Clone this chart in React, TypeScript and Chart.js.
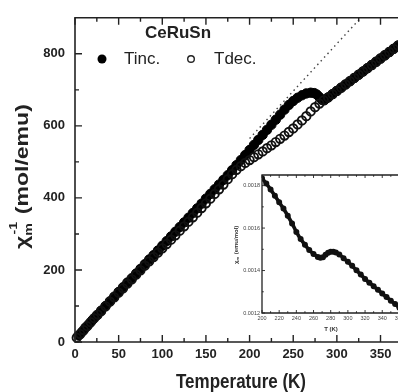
import React, { useEffect, useRef } from 'react';
import { Chart, registerables } from 'chart.js';
Chart.register(...registerables);

const FONT = '"Liberation Sans", Arial, Helvetica, sans-serif';

// ---- main chart data (T in K, chi^-1 in mol/emu) ----
const tincT = [4, 8, 12, 16, 20, 25, 30, 35, 40, 45, 50, 55, 60, 65, 70, 75, 80, 85, 90, 95, 100, 105, 110, 115, 120, 125, 130, 135, 140, 145, 150, 155, 160, 165, 170, 175, 180, 185, 190, 195, 200, 205, 210, 215, 220, 225, 230, 235, 240, 245, 250, 255, 260, 265, 270, 274, 277, 280, 283, 286, 290, 295, 300, 305, 310, 315, 320, 325, 330, 335, 340, 345, 350, 355, 360, 365, 370];
const tincV = [18, 28, 40, 50, 61, 74, 87, 100, 113, 126, 139, 152, 165, 177, 190, 203, 216, 229, 241, 254, 267, 280, 293, 306, 319, 332, 345, 358, 371, 384, 398, 411, 424, 437, 450, 463, 477, 491, 505, 519, 533, 547, 561, 575, 589, 603, 617, 631, 645, 658, 669, 678, 685, 690, 692, 691, 687, 680, 672, 672, 679, 688, 697, 706, 715, 724, 733, 742, 751, 760, 769, 778, 787, 796, 805, 814, 823];

const tdecT = [2, 6, 10, 14, 18, 22, 26, 30, 35, 40, 45, 50, 55, 60, 65, 70, 75, 80, 85, 90, 95, 100, 105, 110, 115, 120, 125, 130, 135, 140, 145, 150, 155, 160, 165, 170, 175, 180, 185, 190, 195, 200, 205, 210, 215, 220, 225, 230, 235, 240, 245, 250, 255, 260, 265, 270, 275, 280, 285, 290, 295, 300, 305, 310, 315, 320, 325, 330, 335, 340, 345, 350, 355, 360, 365, 370];
const tdecV = [12, 22, 33, 44, 55, 66, 76, 86, 99, 112, 124, 137, 149, 162, 174, 187, 199, 212, 224, 236, 248, 260, 272, 284, 296, 309, 321, 334, 346, 359, 372, 385, 398, 411, 424, 437, 452, 466, 478, 488, 497, 505, 513, 521, 529, 538, 546, 555, 564, 573, 583, 593, 604, 615, 627, 640, 652, 662, 671, 679, 688, 697, 706, 715, 724, 733, 742, 751, 760, 769, 778, 787, 796, 805, 814, 823];

const fitT = [200, 327];
const fitV = [565, 899];

const mainXMajor = [0, 50, 100, 150, 200, 250, 300, 350, 400];
const mainXMinor = [25, 75, 125, 175, 225, 275, 325, 375];
const mainYMajor = [0, 200, 400, 600, 800];
const mainYMinor = [100, 300, 500, 700];

// ---- inset data (T in K, chi in emu/mol) ----
const insetT = [200, 205, 210, 215, 220, 225, 230, 235, 240, 245, 250, 255, 260, 265, 268, 271, 274, 277, 280, 283, 286, 290, 295, 300, 305, 310, 315, 320, 325, 330, 335, 340, 345, 350, 355, 360, 365];
const insetChi = [0.001835, 0.00181, 0.001782, 0.001752, 0.001722, 0.001692, 0.001658, 0.001622, 0.001582, 0.001548, 0.001521, 0.001497, 0.001478, 0.001464, 0.00146, 0.001463, 0.001474, 0.001484, 0.001489, 0.001489, 0.001485, 0.001476, 0.001458, 0.001441, 0.001422, 0.001401, 0.001381, 0.00136, 0.001343, 0.001326, 0.001309, 0.001292, 0.001275, 0.001258, 0.001242, 0.001225, 0.00121];

const insetXMajor = [200, 220, 240, 260, 280, 300, 320, 340, 360];
const insetXMinor = [210, 230, 250, 270, 290, 310, 330, 350, 370];
const insetYMajor = [0.0012, 0.0014, 0.0016, 0.0018];
const insetYMinor = [0.0013, 0.0015, 0.0017];

const pts = (xs: number[], ys: number[]) => xs.map((x, i) => ({ x, y: ys[i] }));

const framePlugin = {
  id: 'frame',
  beforeDatasetsDraw(chart: any, _a: any, o: any) {
    if (!o.fill) return;
    const { ctx, chartArea: a } = chart;
    ctx.save();
    ctx.fillStyle = o.fill;
    ctx.fillRect(a.left, a.top, a.right - a.left, a.bottom - a.top);
    ctx.restore();
  },
  afterDatasetsDraw(chart: any, _a: any, o: any) {
    const { ctx, chartArea: a } = chart;
    const xs = chart.scales.x;
    const ys = chart.scales.y;
    ctx.save();
    ctx.strokeStyle = o.color;
    ctx.lineWidth = o.lineWidth;
    ctx.beginPath();
    ctx.rect(a.left, a.top, a.right - a.left, a.bottom - a.top);
    ctx.stroke();
    ctx.lineWidth = o.tickWidth;
    ctx.beginPath();
    const tx = (vals: number[], len: number) => {
      for (const v of vals) {
        const p = xs.getPixelForValue(v);
        ctx.moveTo(p, a.bottom);
        ctx.lineTo(p, a.bottom - len);
        ctx.moveTo(p, a.top);
        ctx.lineTo(p, a.top + len);
      }
    };
    const ty = (vals: number[], len: number) => {
      for (const v of vals) {
        const p = ys.getPixelForValue(v);
        ctx.moveTo(a.left, p);
        ctx.lineTo(a.left + len, p);
        ctx.moveTo(a.right, p);
        ctx.lineTo(a.right - len, p);
      }
    };
    tx(o.xMajor, o.major);
    tx(o.xMinor, o.minor);
    ty(o.yMajor, o.major);
    ty(o.yMinor, o.minor);
    ctx.stroke();
    ctx.restore();
  },
};

const mainText = {
  id: 'mainText',
  afterDraw(chart: any) {
    const ctx = chart.ctx;
    ctx.save();
    ctx.fillStyle = '#222';
    // x title (source figure is slightly stretched vertically)
    ctx.save();
    ctx.translate(241, 383);
    ctx.scale(1, 1.15);
    ctx.font = `bold 17px ${FONT}`;
    ctx.textAlign = 'center';
    ctx.textBaseline = 'middle';
    ctx.fillText('Temperature (K)', 0, 0);
    ctx.restore();
    // y title
    ctx.translate(28, 249);
    ctx.rotate(-Math.PI / 2);
    ctx.scale(1.28, 1);
    ctx.textAlign = 'left';
    ctx.textBaseline = 'alphabetic';
    let x = 0;
    ctx.font = `bold 18px ${FONT}`;
    ctx.fillText('χ', x, 0);
    x += ctx.measureText('χ').width;
    ctx.font = `bold 11px ${FONT}`;
    ctx.fillText('m', x, 4);
    ctx.fillText('-1', x + 1, -11);
    x += ctx.measureText('m').width + 2;
    ctx.font = `bold 18px ${FONT}`;
    ctx.fillText(' (mol/emu)', x, 0);
    ctx.restore();

    // legend
    ctx.save();
    ctx.fillStyle = '#222';
    ctx.font = `bold 17px ${FONT}`;
    ctx.textAlign = 'center';
    ctx.textBaseline = 'middle';
    ctx.fillText('CeRuSn', 178, 33);
    ctx.font = `17px ${FONT}`;
    ctx.textAlign = 'left';
    ctx.fillText('Tinc.', 124, 59);
    ctx.fillText('Tdec.', 214, 59);
    ctx.beginPath();
    ctx.arc(102, 59, 4.5, 0, Math.PI * 2);
    ctx.fillStyle = '#000';
    ctx.fill();
    ctx.beginPath();
    ctx.arc(191, 59, 3.3, 0, Math.PI * 2);
    ctx.strokeStyle = '#222';
    ctx.lineWidth = 1.4;
    ctx.stroke();
    ctx.restore();
  },
};

const insetText = {
  id: 'insetText',
  afterDraw(chart: any) {
    const ctx = chart.ctx;
    ctx.save();
    ctx.fillStyle = '#333';
    ctx.font = `bold 6px ${FONT}`;
    ctx.textAlign = 'center';
    ctx.textBaseline = 'middle';
    ctx.fillText('T (K)', 111, 164);
    ctx.translate(16, 99);
    ctx.rotate(-Math.PI / 2);
    ctx.textAlign = 'left';
    let x = 0;
    ctx.fillText('χ', x, 0);
    x += ctx.measureText('χ').width;
    ctx.font = `bold 4px ${FONT}`;
    ctx.fillText('m', x, 1.5);
    x += ctx.measureText('m').width + 1;
    ctx.font = `bold 6px ${FONT}`;
    ctx.fillText(' (emu/mol)', x, 0);
    ctx.restore();
  },
};

export default function App() {
  const mainRef = useRef<HTMLCanvasElement>(null);
  const insetRef = useRef<HTMLCanvasElement>(null);

  useEffect(() => {
    const main = new Chart(mainRef.current as HTMLCanvasElement, {
      type: 'scatter',
      data: {
        datasets: [
          {
            label: 'fit',
            data: pts(fitT, fitV),
            showLine: true,
            borderColor: '#444',
            borderWidth: 1.4,
            borderDash: [1.5, 3.5],
            pointRadius: 0,
            order: 3,
          },
          {
            label: 'Tinc.',
            data: pts(tincT, tincV),
            pointRadius: 4.7,
            pointBackgroundColor: '#000',
            pointBorderColor: '#000',
            pointBorderWidth: 1,
            clip: false,
            order: 2,
          },
          {
            label: 'Tdec.',
            data: pts(tdecT, tdecV),
            pointRadius: 4.2,
            pointBackgroundColor: 'rgba(255,255,255,0)',
            pointBorderColor: '#111',
            pointBorderWidth: 1.9,
            clip: false,
            order: 1,
          },
        ],
      },
      options: {
        responsive: false,
        animation: false,
        events: [],
        layout: { padding: { left: 0, top: 9, right: 5, bottom: 0 } },
        plugins: {
          legend: { display: false },
          tooltip: { enabled: false },
          frame: {
            color: '#222', lineWidth: 1.6, tickWidth: 1.4, major: 7, minor: 4,
            xMajor: mainXMajor, xMinor: mainXMinor, yMajor: mainYMajor, yMinor: mainYMinor,
          },
        } as any,
        scales: {
          x: {
            type: 'linear',
            min: 0,
            max: 400,
            afterBuildTicks: (s: any) => { s.ticks = mainXMajor.map((v) => ({ value: v })); },
            afterFit: (s: any) => { s.height = 50; },
            grid: { display: false, drawTicks: false },
            border: { display: false },
            ticks: { padding: 5, color: '#222', font: { family: FONT, size: 13, weight: 'bold' }, maxRotation: 0, autoSkip: false },
          },
          y: {
            type: 'linear',
            min: 0,
            max: 900,
            afterBuildTicks: (s: any) => { s.ticks = mainYMajor.map((v) => ({ value: v })); },
            afterFit: (s: any) => { s.width = 75; },
            grid: { display: false, drawTicks: false },
            border: { display: false },
            ticks: { padding: 10, color: '#222', font: { family: FONT, size: 13, weight: 'bold' } },
          },
        },
      },
      plugins: [framePlugin, mainText],
    });

    const inset = new Chart(insetRef.current as HTMLCanvasElement, {
      type: 'line',
      data: {
        datasets: [
          {
            label: 'chi',
            data: pts(insetT, insetChi),
            borderColor: '#111',
            borderWidth: 3.6,
            pointRadius: 1.2,
            pointBackgroundColor: '#111',
            pointBorderColor: '#111',
            tension: 0.3,
          },
        ],
      },
      options: {
        responsive: false,
        animation: false,
        events: [],
        layout: { padding: { left: 0, top: 10, right: 32, bottom: 0 } },
        plugins: {
          legend: { display: false },
          tooltip: { enabled: false },
          frame: {
            fill: '#fff', color: '#222', lineWidth: 1.3, tickWidth: 0.9, major: 3, minor: 1.8,
            xMajor: insetXMajor, xMinor: insetXMinor, yMajor: insetYMajor, yMinor: insetYMinor,
          },
        } as any,
        scales: {
          x: {
            type: 'linear',
            min: 200,
            max: 370,
            afterBuildTicks: (s: any) => { s.ticks = insetXMajor.map((v) => ({ value: v })); },
            afterFit: (s: any) => { s.height = 30; },
            grid: { display: false, drawTicks: false },
            border: { display: false },
            ticks: { padding: 2, color: '#444', font: { family: FONT, size: 5.5 }, maxRotation: 0, autoSkip: false },
          },
          y: {
            type: 'linear',
            min: 0.0012,
            max: 0.00185,
            afterBuildTicks: (s: any) => { s.ticks = insetYMajor.map((v) => ({ value: v })); },
            afterFit: (s: any) => { s.width = 42; },
            grid: { display: false, drawTicks: false },
            border: { display: false },
            ticks: {
              padding: 2,
              color: '#444',
              font: { family: FONT, size: 5.5 },
              callback: (v: any) => Number(v).toFixed(4),
            },
          },
        },
      },
      plugins: [framePlugin, insetText],
    });

    return () => {
      main.destroy();
      inset.destroy();
    };
  }, []);

  return (
    <div style={{ position: 'absolute', left: 0, top: 0, width: 398, height: 392, overflow: 'hidden', background: '#fff' }}>
      <canvas ref={mainRef} width={440} height={392} style={{ position: 'absolute', left: 0, top: 0, width: 440, height: 392 }} />
      <canvas ref={insetRef} width={220} height={178} style={{ position: 'absolute', left: 220, top: 165, width: 220, height: 178 }} />
    </div>
  );
}
